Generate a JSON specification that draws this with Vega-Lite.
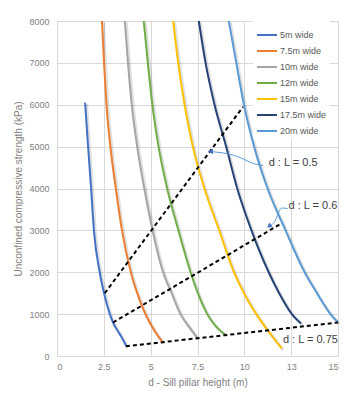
{
  "$schema": "https://vega.github.io/schema/vega-lite/v6.json",
  "width": 281,
  "height": 335,
  "autosize": {"type": "none"},
  "padding": {"left": 57, "top": 21, "right": 17, "bottom": 48},
  "background": "white",
  "config": {
    "view": {"stroke": null},
    "font": "Liberation Sans",
    "axis": {
      "grid": true,
      "gridColor": "#d9d9d9",
      "gridWidth": 1,
      "ticks": false,
      "domain": false,
      "labelColor": "#7f7f7f",
      "labelFontSize": 9,
      "titleColor": "#7f7f7f",
      "titleFontSize": 10,
      "titleFontWeight": "normal"
    }
  },
  "datasets": {
    "curves": [
      {"series": "5m wide", "d": 1.50, "ucs": 6050},
      {"series": "5m wide", "d": 1.66, "ucs": 5000},
      {"series": "5m wide", "d": 1.82, "ucs": 4000},
      {"series": "5m wide", "d": 1.97, "ucs": 3000},
      {"series": "5m wide", "d": 2.28, "ucs": 2000},
      {"series": "5m wide", "d": 2.51, "ucs": 1500},
      {"series": "5m wide", "d": 2.82, "ucs": 1000},
      {"series": "5m wide", "d": 2.99, "ucs": 800},
      {"series": "5m wide", "d": 3.21, "ucs": 620},
      {"series": "5m wide", "d": 3.42, "ucs": 470},
      {"series": "5m wide", "d": 3.70, "ucs": 232},
      {"series": "7.5m wide", "d": 2.40, "ucs": 8000},
      {"series": "7.5m wide", "d": 2.51, "ucs": 7000},
      {"series": "7.5m wide", "d": 2.64, "ucs": 6000},
      {"series": "7.5m wide", "d": 2.85, "ucs": 5000},
      {"series": "7.5m wide", "d": 3.14, "ucs": 4000},
      {"series": "7.5m wide", "d": 3.47, "ucs": 3000},
      {"series": "7.5m wide", "d": 3.94, "ucs": 2000},
      {"series": "7.5m wide", "d": 4.28, "ucs": 1500},
      {"series": "7.5m wide", "d": 4.72, "ucs": 1000},
      {"series": "7.5m wide", "d": 5.10, "ucs": 680},
      {"series": "7.5m wide", "d": 5.63, "ucs": 330},
      {"series": "10m wide", "d": 3.62, "ucs": 8000},
      {"series": "10m wide", "d": 3.79, "ucs": 7000},
      {"series": "10m wide", "d": 3.99, "ucs": 6000},
      {"series": "10m wide", "d": 4.28, "ucs": 5000},
      {"series": "10m wide", "d": 4.66, "ucs": 4000},
      {"series": "10m wide", "d": 5.10, "ucs": 3000},
      {"series": "10m wide", "d": 5.66, "ucs": 2000},
      {"series": "10m wide", "d": 6.12, "ucs": 1500},
      {"series": "10m wide", "d": 6.59, "ucs": 1000},
      {"series": "10m wide", "d": 7.04, "ucs": 700},
      {"series": "10m wide", "d": 7.50, "ucs": 425},
      {"series": "12m wide", "d": 4.63, "ucs": 8000},
      {"series": "12m wide", "d": 4.85, "ucs": 7000},
      {"series": "12m wide", "d": 5.09, "ucs": 6000},
      {"series": "12m wide", "d": 5.42, "ucs": 5000},
      {"series": "12m wide", "d": 5.88, "ucs": 4000},
      {"series": "12m wide", "d": 6.48, "ucs": 3000},
      {"series": "12m wide", "d": 7.13, "ucs": 2000},
      {"series": "12m wide", "d": 7.52, "ucs": 1500},
      {"series": "12m wide", "d": 8.02, "ucs": 1000},
      {"series": "12m wide", "d": 8.46, "ucs": 720},
      {"series": "12m wide", "d": 9.00, "ucs": 505},
      {"series": "15m wide", "d": 6.20, "ucs": 8000},
      {"series": "15m wide", "d": 6.47, "ucs": 7000},
      {"series": "15m wide", "d": 6.81, "ucs": 6000},
      {"series": "15m wide", "d": 7.25, "ucs": 5000},
      {"series": "15m wide", "d": 7.87, "ucs": 4000},
      {"series": "15m wide", "d": 8.66, "ucs": 3000},
      {"series": "15m wide", "d": 9.45, "ucs": 2000},
      {"series": "15m wide", "d": 9.98, "ucs": 1500},
      {"series": "15m wide", "d": 10.64, "ucs": 1000},
      {"series": "15m wide", "d": 11.25, "ucs": 610},
      {"series": "15m wide", "d": 12.00, "ucs": 180},
      {"series": "17.5m wide", "d": 7.57, "ucs": 8000},
      {"series": "17.5m wide", "d": 7.93, "ucs": 7000},
      {"series": "17.5m wide", "d": 8.41, "ucs": 6000},
      {"series": "17.5m wide", "d": 9.03, "ucs": 5000},
      {"series": "17.5m wide", "d": 9.62, "ucs": 4000},
      {"series": "17.5m wide", "d": 10.38, "ucs": 3000},
      {"series": "17.5m wide", "d": 11.30, "ucs": 2000},
      {"series": "17.5m wide", "d": 11.86, "ucs": 1500},
      {"series": "17.5m wide", "d": 12.54, "ucs": 1000},
      {"series": "17.5m wide", "d": 13.03, "ucs": 775},
      {"series": "20m wide", "d": 9.17, "ucs": 8000},
      {"series": "20m wide", "d": 9.57, "ucs": 7000},
      {"series": "20m wide", "d": 9.98, "ucs": 6000},
      {"series": "20m wide", "d": 10.52, "ucs": 5000},
      {"series": "20m wide", "d": 11.24, "ucs": 4000},
      {"series": "20m wide", "d": 12.20, "ucs": 3000},
      {"series": "20m wide", "d": 13.22, "ucs": 2000},
      {"series": "20m wide", "d": 13.88, "ucs": 1500},
      {"series": "20m wide", "d": 14.60, "ucs": 1000},
      {"series": "20m wide", "d": 15.00, "ucs": 800}
    ],
    "dashes": [
      {"ratio": "0.5", "d": 2.55, "ucs": 1500},
      {"ratio": "0.5", "d": 9.93, "ucs": 5950},
      {"ratio": "0.6", "d": 2.99, "ucs": 800},
      {"ratio": "0.6", "d": 11.96, "ucs": 3160},
      {"ratio": "0.75", "d": 3.68, "ucs": 232},
      {"ratio": "0.75", "d": 15.0, "ucs": 800}
    ],
    "labels": [
      {"text": "d : L = 0.5", "d": 11.3, "ucs": 4620},
      {"text": "d : L = 0.6", "d": 12.36, "ucs": 3580},
      {"text": "d : L = 0.75", "d": 12.06, "ucs": 380}
    ],
    "arrows": [
      {"arrow": "a", "d": 10.99, "ucs": 4554},
      {"arrow": "a", "d": 10.49, "ucs": 4595},
      {"arrow": "a", "d": 9.78, "ucs": 4738},
      {"arrow": "a", "d": 9.07, "ucs": 4833},
      {"arrow": "a", "d": 8.44, "ucs": 4872},
      {"arrow": "a", "d": 8.1, "ucs": 4886},
      {"arrow": "b", "d": 12.31, "ucs": 3520},
      {"arrow": "b", "d": 12.01, "ucs": 3534},
      {"arrow": "b", "d": 11.83, "ucs": 3439},
      {"arrow": "b", "d": 11.70, "ucs": 3281},
      {"arrow": "b", "d": 11.53, "ucs": 3162},
      {"arrow": "b", "d": 11.30, "ucs": 3090}
    ],
    "heads": [
      {"d": 8.2, "ucs": 4886, "angle": 270},
      {"d": 11.32, "ucs": 3100, "angle": 235}
    ]
  },
  "layer": [
    {
      "data": {"name": "curves"},
      "mark": {"type": "line", "strokeWidth": 3, "color": "#000000", "opacity": 0.12, "xOffset": 1.5, "yOffset": 1.5, "interpolate": "monotone"},
      "encoding": {
        "x": {"field": "d", "type": "quantitative", "scale": {"domain": [0, 15], "nice": false}, "axis": {"values": [0, 2.5, 5, 7.5, 10, 12.5, 15], "format": "~g", "title": "d - Sill pillar height (m)", "labelPadding": 6, "titlePadding": 6}},
        "y": {"field": "ucs", "type": "quantitative", "scale": {"domain": [0, 8000], "nice": false}, "axis": {"values": [0, 1000, 2000, 3000, 4000, 5000, 6000, 7000, 8000], "format": "d", "title": "Unconfined compressive strength (kPa)", "labelPadding": 8, "titlePadding": 5}},
        "detail": {"field": "series"}
      }
    },
    {
      "data": {"name": "curves"},
      "mark": {"type": "line", "strokeWidth": 2, "interpolate": "monotone"},
      "encoding": {
        "x": {"field": "d", "type": "quantitative"},
        "y": {"field": "ucs", "type": "quantitative"},
        "color": {
          "field": "series",
          "type": "nominal",
          "scale": {
            "domain": ["5m wide", "7.5m wide", "10m wide", "12m wide", "15m wide", "17.5m wide", "20m wide"],
            "range": ["#4472c4", "#ed7d31", "#a5a5a5", "#70ad47", "#ffc000", "#264478", "#5b9bd5"]
          },
          "legend": {
            "title": null,
            "orient": "none",
            "legendX": 196,
            "legendY": 0,
            "fillColor": "white",
            "padding": 3,
            "symbolType": "stroke",
            "symbolSize": 400,
            "symbolStrokeWidth": 2,
            "labelFontSize": 9,
            "labelColor": "#595959",
            "labelOffset": 2,
            "rowPadding": -0.4
          }
        }
      }
    },
    {
      "data": {"name": "dashes"},
      "mark": {"type": "line", "color": "#000000", "strokeWidth": 2, "strokeDash": [4, 3]},
      "encoding": {
        "x": {"field": "d", "type": "quantitative"},
        "y": {"field": "ucs", "type": "quantitative"},
        "detail": {"field": "ratio"}
      }
    },
    {
      "data": {"name": "arrows"},
      "mark": {"type": "line", "color": "#5b9bd5", "strokeWidth": 1, "interpolate": "monotone"},
      "encoding": {
        "x": {"field": "d", "type": "quantitative"},
        "y": {"field": "ucs", "type": "quantitative"},
        "detail": {"field": "arrow"},
        "order": {"field": "d"}
      }
    },
    {
      "data": {"name": "heads"},
      "mark": {"type": "point", "shape": "triangle-up", "filled": true, "color": "#4472c4", "size": 30, "opacity": 1},
      "encoding": {
        "x": {"field": "d", "type": "quantitative"},
        "y": {"field": "ucs", "type": "quantitative"},
        "angle": {"field": "angle", "type": "quantitative", "scale": null}
      }
    },
    {
      "data": {"name": "labels"},
      "mark": {"type": "text", "align": "left", "baseline": "middle", "fontSize": 11, "color": "#404040"},
      "encoding": {
        "x": {"field": "d", "type": "quantitative"},
        "y": {"field": "ucs", "type": "quantitative"},
        "text": {"field": "text"}
      }
    }
  ]
}
